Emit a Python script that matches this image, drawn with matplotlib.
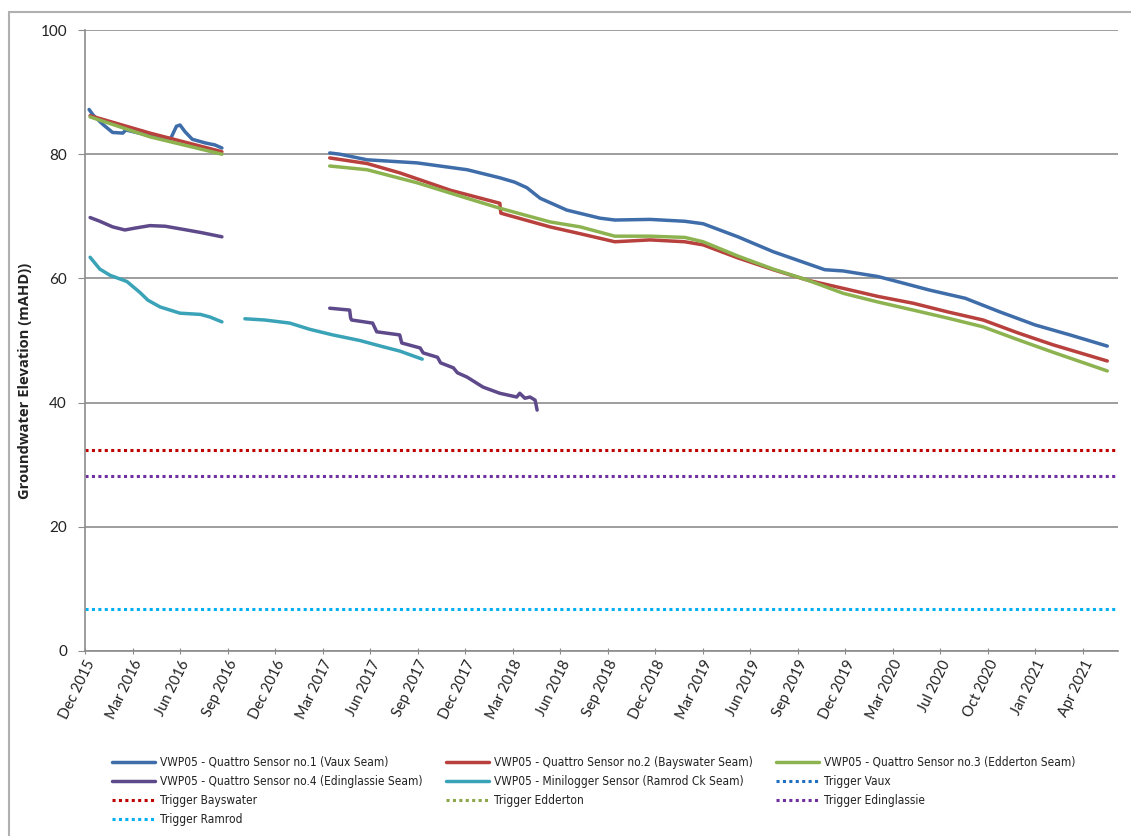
import matplotlib
matplotlib.use("Agg")
import matplotlib.pyplot as plt
import matplotlib.dates as mdates
from matplotlib.patches import Rectangle
from matplotlib.font_manager import FontProperties
import pandas as pd
import numpy as np

# ---------------- data ----------------
vaux_dates_1 = ["2015-12-09", "2015-12-17", "2016-01-05", "2016-01-24", "2016-02-13", "2016-02-19",
                "2016-04-26", "2016-05-16", "2016-05-28", "2016-06-04", "2016-06-14", "2016-06-28",
                "2016-07-24", "2016-08-11", "2016-08-25"]
vaux_vals_1 = [87.2, 86.3, 84.8, 83.5, 83.4, 83.9, 82.6, 82.4, 84.5, 84.7, 83.6, 82.4, 81.8, 81.5, 81.0]
vaux_dates_2 = ["2017-03-24", "2017-04-13", "2017-06-05", "2017-09-11", "2017-12-18", "2018-02-20",
                "2018-03-21", "2018-04-14", "2018-05-10", "2018-07-01", "2018-09-04", "2018-10-03",
                "2018-12-11", "2019-02-17", "2019-03-25", "2019-06-01", "2019-08-09", "2019-11-18",
                "2019-12-24", "2020-03-01", "2020-04-03", "2020-06-11", "2020-08-19", "2020-10-26",
                "2021-01-03", "2021-03-12", "2021-05-24"]
vaux_vals_2 = [80.2, 80.0, 79.1, 78.6, 77.5, 76.2, 75.5, 74.6, 72.9, 71.0, 69.7, 69.4,
               69.5, 69.2, 68.8, 66.7, 64.3, 61.4, 61.2, 60.3, 59.6, 58.1, 56.8, 54.6,
               52.5, 50.9, 49.1]

bays_dates_1 = ["2015-12-11", "2016-04-06", "2016-08-25"]
bays_vals_1 = [86.2, 83.4, 80.4]
bays_dates_2 = ["2017-03-24", "2017-06-05", "2017-08-08", "2017-11-15", "2018-02-20", "2018-02-22",
                "2018-05-29", "2018-07-27", "2018-10-03", "2018-12-11", "2019-02-17", "2019-03-25",
                "2019-06-01", "2019-08-09", "2019-10-16", "2019-12-24", "2020-03-01", "2020-05-09",
                "2020-07-16", "2020-09-23", "2020-12-01", "2021-02-07", "2021-05-24"]
bays_vals_2 = [79.4, 78.5, 77.0, 74.2, 72.1, 70.5, 68.3, 67.2, 65.9, 66.2, 65.9, 65.4,
               63.3, 61.4, 59.7, 58.4, 57.1, 56.0, 54.6, 53.3, 51.2, 49.3, 46.7]

edd_dates_1 = ["2015-12-11", "2016-04-06", "2016-08-25"]
edd_vals_1 = [86.0, 82.8, 80.0]
edd_dates_2 = ["2017-03-24", "2017-06-05", "2017-09-11", "2017-12-18", "2018-02-20", "2018-05-29",
               "2018-07-27", "2018-10-03", "2018-12-11", "2019-02-17", "2019-03-25", "2019-06-01",
               "2019-08-09", "2019-10-16", "2019-12-24", "2020-03-01", "2020-05-09", "2020-07-16",
               "2020-09-23", "2020-12-01", "2021-02-07", "2021-05-24"]
edd_vals_2 = [78.1, 77.5, 75.4, 72.9, 71.3, 69.1, 68.3, 66.8, 66.8, 66.6, 65.9, 63.6,
              61.5, 59.7, 57.6, 56.2, 54.9, 53.6, 52.2, 50.1, 48.1, 45.1]

eding_dates_1 = ["2015-12-11", "2015-12-30", "2016-01-24", "2016-02-17", "2016-03-08", "2016-04-06",
                 "2016-05-06", "2016-06-10", "2016-07-14", "2016-08-25"]
eding_vals_1 = [69.8, 69.2, 68.3, 67.8, 68.1, 68.5, 68.4, 67.9, 67.4, 66.7]
eding_dates_2 = ["2017-03-24", "2017-05-02", "2017-05-04", "2017-05-06", "2017-06-16", "2017-06-24",
                 "2017-08-08", "2017-08-12", "2017-09-17", "2017-09-23", "2017-10-21", "2017-10-27",
                 "2017-11-21", "2017-11-29", "2017-12-18", "2018-01-18", "2018-02-20", "2018-03-25",
                 "2018-03-31", "2018-04-10", "2018-04-20", "2018-04-30", "2018-05-04"]
eding_vals_2 = [55.2, 54.9, 53.6, 53.3, 52.8, 51.4, 50.9, 49.6, 48.8, 48.0, 47.3, 46.4,
                45.6, 44.8, 44.1, 42.5, 41.5, 40.9, 41.5, 40.7, 40.9, 40.4, 38.8]

ramrod_dates_1 = ["2015-12-11", "2015-12-30", "2016-01-19", "2016-02-21", "2016-03-18", "2016-04-02",
                  "2016-04-26", "2016-06-04", "2016-07-14", "2016-08-01", "2016-08-25"]
ramrod_vals_1 = [63.4, 61.5, 60.5, 59.5, 57.7, 56.5, 55.4, 54.4, 54.2, 53.8, 53.0]
ramrod_dates_2 = ["2016-10-09", "2016-11-17", "2017-01-05", "2017-02-13", "2017-03-30", "2017-05-22",
                  "2017-07-06", "2017-08-08", "2017-09-21"]
ramrod_vals_2 = [53.5, 53.3, 52.8, 51.8, 50.9, 50.0, 49.0, 48.3, 47.0]

trigger_names = ["Trigger Vaux", "Trigger Bayswater", "Trigger Edderton", "Trigger Edinglassie", "Trigger Ramrod"]
trigger_values = [np.nan, 32.3, np.nan, 28.2, 6.8]   # Vaux / Edderton not visible on the chart

series_names = ["VWP05 - Quattro Sensor no.1 (Vaux Seam)",
                "VWP05 - Quattro Sensor no.2 (Bayswater Seam)",
                "VWP05 - Quattro Sensor no.3 (Edderton Seam)",
                "VWP05 - Quattro Sensor no.4 (Edinglassie Seam)",
                "VWP05 - Minilogger Sensor (Ramrod Ck Seam)"]

y_ticks = [0, 20, 40, 60, 80, 100]
x_start = "2015-12-01"
x_end = "2021-06-14"
tick_step_days = 93
n_ticks = 22

# ---------------- styling ----------------
series_colors = ["#3F6DAA", "#B8403D", "#8DB350", "#5E4A8A", "#3AA3B8"]
trigger_colors = ["#1F6FC0", "#C00000", "#8DA64A", "#7030A0", "#00B0F0"]

plt.rcParams['font.family'] = ['Lato', 'DejaVu Sans']

fig = plt.figure(figsize=(11.31, 8.36), dpi=100)
ax = fig.add_axes([85 / 1131, 1 - 651 / 836, (1118 - 85) / 1131, (651 - 30) / 836])

segments = [
    [(vaux_dates_1, vaux_vals_1), (vaux_dates_2, vaux_vals_2)],
    [(bays_dates_1, bays_vals_1), (bays_dates_2, bays_vals_2)],
    [(edd_dates_1, edd_vals_1), (edd_dates_2, edd_vals_2)],
    [(eding_dates_1, eding_vals_1), (eding_dates_2, eding_vals_2)],
    [(ramrod_dates_1, ramrod_vals_1), (ramrod_dates_2, ramrod_vals_2)],
]

handles = {}
for name, col, segs in zip(series_names, series_colors, segments):
    for i, (d, v) in enumerate(segs):
        ln, = ax.plot(pd.to_datetime(d), v, color=col, lw=2.5, solid_capstyle='round',
                      solid_joinstyle='round', label=name if i == 0 else None, zorder=3)
        if i == 0:
            handles[name] = ln

xs = pd.to_datetime([x_start, x_end])
for name, col, val in zip(trigger_names, trigger_colors, trigger_values):
    ln, = ax.plot(xs, [val, val], color=col, lw=2.2, linestyle=(0, (1, 1.1)), label=name, zorder=2)
    handles[name] = ln

ax.set_xlim(xs[0], xs[1])
ax.set_ylim(0, 100)
ax.set_yticks(y_ticks)
ticks = [pd.Timestamp(x_start) + pd.Timedelta(days=tick_step_days * k) for k in range(n_ticks)]
ax.set_xticks(ticks)
ax.xaxis.set_major_formatter(mdates.DateFormatter('%b %Y'))
for lab in ax.get_xticklabels():
    lab.set_rotation(64)
    lab.set_ha('right')
    lab.set_rotation_mode('anchor')
    lab.set_fontsize(10.5)
for lab in ax.get_yticklabels():
    lab.set_fontsize(11)

ax.grid(axis='y', color='#8c8c8c', lw=1.2)
ax.set_axisbelow(True)
for s in ['top', 'right']:
    ax.spines[s].set_visible(False)
for s in ['left', 'bottom']:
    ax.spines[s].set_color('#8c8c8c')
    ax.spines[s].set_linewidth(1.2)
ax.tick_params(axis='y', length=5, color='#8c8c8c', pad=8, labelcolor='#222222')
ax.tick_params(axis='x', length=4, direction='inout', color='#8c8c8c', pad=3, labelcolor='#222222')

ax.set_ylabel("Groundwater Elevation (mAHD))", fontsize=10.6, fontweight='bold',
              family=['Open Sans', 'DejaVu Sans'], color='#222222')
ax.yaxis.set_label_coords(-53 / 1033, (651 - 381) / 621)

order = [series_names[0], series_names[3], trigger_names[1], trigger_names[4],
         series_names[1], series_names[4], trigger_names[2],
         series_names[2], trigger_names[0], trigger_names[3]]
leg_font = FontProperties(family='DejaVu Sans', stretch='condensed', size=8.6)
leg = fig.legend([handles[n] for n in order], order, ncol=3, loc='upper left',
                 bbox_to_anchor=(101 / 1131, 1 - 745 / 836), frameon=False,
                 prop=leg_font, handlelength=3.6, handletextpad=0.42, columnspacing=1.95,
                 labelspacing=0.52)
for t in leg.get_texts():
    t.set_color('#222222')

fig.patches.append(Rectangle((9 / 1131, -0.05), 1.2, 1 - 12 / 836 + 0.05, transform=fig.transFigure,
                             fill=False, edgecolor='#b0b0b0', lw=1.5))

fig.savefig("out.png", dpi=100)
